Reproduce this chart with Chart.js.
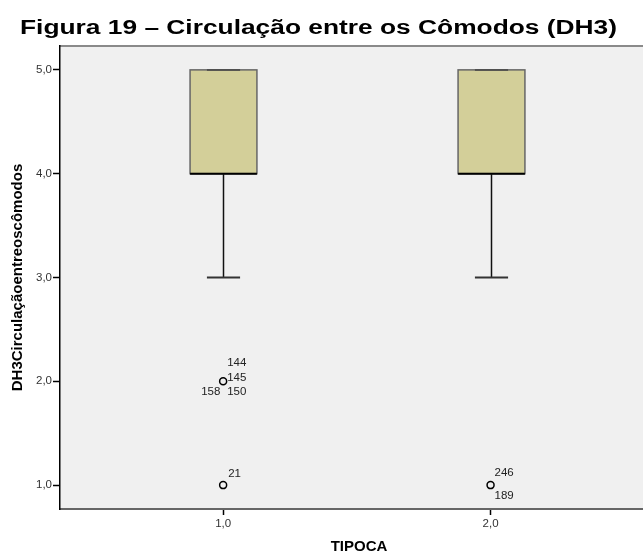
<!DOCTYPE html>
<html>
<head>
<meta charset="utf-8">
<script src="https://cdn.jsdelivr.net/npm/chart.js@4.4.1/dist/chart.umd.min.js"></script>
<style>
  html, body { margin: 0; padding: 0; background: #fff; }
  #wrap { width: 643px; height: 554px; }
</style>
</head>
<body>
<div id="wrap"><canvas id="boxChart" width="643" height="554"></canvas></div>
<script>
// dados
const categories = [1, 2];
const lowerWhisker = [3, 3];
const q1 = [4, 4];
const median = [4, 4];
const q3 = [5, 5];
const upperWhisker = [5, 5];

// outliers (casos)
const outlierX = [1, 1, 2];
const outlierY = [2, 1, 1];
const outlierCases = [["144", "145", "158", "150"], ["21"], ["246", "189"]];

const yTicks = [1, 2, 3, 4, 5];
const xTicks = [1, 2];

const chartTitle = "Figura 19 – Circulação entre os Cômodos (DH3)";
const xTitle = "TIPOCA";
const yTitle = "DH3Circulaçãoentreoscômodos";

const fmt = (v) => Number(v).toFixed(1).replace(".", ",");
const FONT = "'Liberation Sans', Arial, sans-serif";

// posição dos rótulos dos casos em torno do ponto (px)
const labelSlots = {
  1: [[5, -11]],
  2: [[4, -12], [4, 11]],
  4: [[4, -18], [4, -3], [-22, 11], [4, 11]]
};

// fundo + borda superior da área do gráfico + títulos
const backgroundPlugin = {
  id: "bg",
  beforeDraw(chart) {
    const { ctx, chartArea: a } = chart;
    ctx.save();
    ctx.fillStyle = "#f0f0f0";
    ctx.fillRect(a.left, a.top, a.right - a.left, a.bottom - a.top);
    ctx.strokeStyle = "#8a8a8a";
    ctx.lineWidth = 2;
    ctx.beginPath();
    ctx.moveTo(a.left, a.top);
    ctx.lineTo(a.right, a.top);
    ctx.stroke();
    ctx.restore();
  },
  afterDraw(chart) {
    const { ctx } = chart;
    ctx.save();
    // título um pouco "esticado" na horizontal, como no original
    ctx.font = "bold 20px " + FONT;
    ctx.fillStyle = "#000";
    ctx.textAlign = "center";
    ctx.textBaseline = "alphabetic";
    const w = ctx.measureText(chartTitle).width;
    ctx.translate(318.5, 33.5);
    ctx.scale(597 / w, 1);
    ctx.fillText(chartTitle, 0, 0);
    ctx.restore();

    // título do eixo X (a área original continua além da borda direita)
    ctx.save();
    ctx.font = "bold 15px " + FONT;
    ctx.fillStyle = "#000";
    ctx.textAlign = "center";
    ctx.textBaseline = "middle";
    ctx.fillText(xTitle, 359, 547);
    ctx.restore();
  }
};

// caixas e bigodes desenhados pelas escalas do Chart.js
const boxPlugin = {
  id: "boxes",
  beforeDatasetsDraw(chart) {
    const { ctx, scales } = chart;
    const x = scales.x, y = scales.y;
    const step = x.getPixelForValue(2) - x.getPixelForValue(1);
    const halfBox = step * 0.125;
    const halfCap = step * 0.062;
    ctx.save();
    categories.forEach((c, i) => {
      const cx = Math.round(x.getPixelForValue(c)) + 0.5;
      const yLo = y.getPixelForValue(lowerWhisker[i]);
      const yQ1 = y.getPixelForValue(q1[i]);
      const yMed = y.getPixelForValue(median[i]);
      const yQ3 = y.getPixelForValue(q3[i]);
      const yHi = y.getPixelForValue(upperWhisker[i]);

      // bigode inferior
      ctx.strokeStyle = "#111";
      ctx.lineWidth = 1.5;
      ctx.beginPath();
      ctx.moveTo(cx, yQ1);
      ctx.lineTo(cx, yLo);
      ctx.stroke();
      ctx.strokeStyle = "#333";
      ctx.lineWidth = 2;
      ctx.beginPath();
      ctx.moveTo(cx - halfCap, yLo);
      ctx.lineTo(cx + halfCap, yLo);
      ctx.stroke();

      // bigode superior
      ctx.strokeStyle = "#111";
      ctx.lineWidth = 1.5;
      ctx.beginPath();
      ctx.moveTo(cx, yQ3);
      ctx.lineTo(cx, yHi);
      ctx.stroke();

      // caixa
      ctx.fillStyle = "#d3cf99";
      ctx.fillRect(cx - halfBox, yQ3, halfBox * 2, yQ1 - yQ3);
      ctx.strokeStyle = "#666";
      ctx.lineWidth = 1.5;
      ctx.strokeRect(cx - halfBox, yQ3, halfBox * 2, yQ1 - yQ3);

      // tampa superior sobre a caixa
      ctx.strokeStyle = "#444";
      ctx.lineWidth = 1.5;
      ctx.beginPath();
      ctx.moveTo(cx - halfCap, yHi);
      ctx.lineTo(cx + halfCap, yHi);
      ctx.stroke();

      // mediana
      ctx.strokeStyle = "#000";
      ctx.lineWidth = 2;
      ctx.beginPath();
      ctx.moveTo(cx - halfBox, yMed);
      ctx.lineTo(cx + halfBox, yMed);
      ctx.stroke();
    });
    ctx.restore();
  },
  afterDatasetsDraw(chart) {
    const { ctx, scales } = chart;
    ctx.save();
    ctx.font = "11.5px " + FONT;
    ctx.fillStyle = "#222";
    ctx.textBaseline = "middle";
    ctx.textAlign = "left";
    outlierX.forEach((ox, i) => {
      const px = scales.x.getPixelForValue(ox);
      const py = scales.y.getPixelForValue(outlierY[i]);
      const cases = outlierCases[i];
      const slots = labelSlots[cases.length] || [];
      cases.forEach((lab, k) => {
        const s = slots[k] || [5, -11 + k * 12];
        ctx.fillText(lab, px + s[0], py + s[1]);
      });
    });
    ctx.restore();
  }
};

const ctx = document.getElementById("boxChart");

new Chart(ctx, {
  type: "scatter",
  data: {
    datasets: [
      {
        label: "Outliers",
        data: outlierX.map((v, i) => ({ x: v, y: outlierY[i] })),
        pointStyle: "circle",
        pointRadius: 3.5,
        pointHoverRadius: 3.5,
        borderColor: "#000",
        borderWidth: 1.5,
        backgroundColor: "rgba(0,0,0,0)"
      }
    ]
  },
  options: {
    responsive: false,
    animation: false,
    layout: { autoPadding: false, padding: { left: 9, right: 0, top: 46, bottom: 0 } },
    plugins: {
      legend: { display: false },
      tooltip: { enabled: false },
      title: { display: false }
    },
    scales: {
      x: {
        type: "linear",
        min: 0.39,
        max: 2.57,
        afterBuildTicks: (s) => { s.ticks = xTicks.map((v) => ({ value: v })); },
        afterFit: (s) => { s.height = 45; },
        ticks: {
          callback: (v) => fmt(v),
          color: "#333",
          font: { family: FONT, size: 11.5 },
          padding: 2,
          maxRotation: 0
        },
        grid: { drawOnChartArea: false, drawTicks: true, tickLength: 6, color: "#000", tickWidth: 1.5 },
        border: { display: true, color: "#666", width: 2 },
        title: { display: false }
      },
      y: {
        type: "linear",
        min: 0.77,
        max: 5.23,
        afterBuildTicks: (s) => { s.ticks = yTicks.map((v) => ({ value: v })); },
        afterFit: (s) => { s.width = 51; },
        ticks: {
          callback: (v) => fmt(v),
          color: "#333",
          font: { family: FONT, size: 11.5 },
          padding: 1
        },
        grid: { drawOnChartArea: false, drawTicks: true, tickLength: 7, color: "#000", tickWidth: 1.5 },
        border: { display: true, color: "#000", width: 1.5 },
        title: {
          display: true,
          text: yTitle,
          color: "#000",
          font: { family: FONT, size: 15, weight: "bold" },
          padding: 0
        }
      }
    }
  },
  plugins: [backgroundPlugin, boxPlugin]
});
</script>
</body>
</html>
